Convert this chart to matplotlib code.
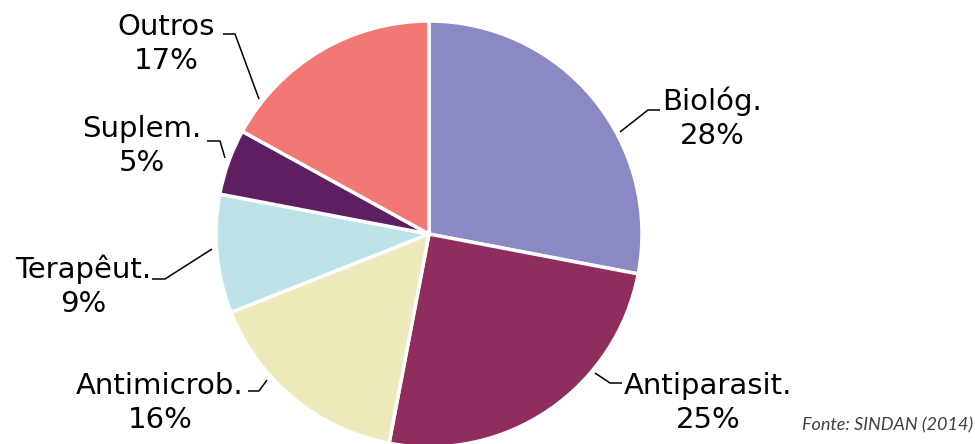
import matplotlib
matplotlib.use("Agg")
import matplotlib.pyplot as plt

categories = ["Biológ.", "Antiparasit.", "Antimicrob.", "Terapêut.", "Suplem.", "Outros"]
values = [28, 25, 16, 9, 5, 17]
colors = ["#8B89C4", "#8F2D5E", "#EDEBBB", "#BDE3E8", "#5E1F60", "#F27874"]

W, H = 975, 444
fig = plt.figure(figsize=(W / 100, H / 100), dpi=100)
ax = fig.add_axes([0, 0, 1, 1])

def py(y):
    return H - y

cx, cy, r = 429, 234, 213
ax.pie(values, colors=colors, startangle=90, counterclock=False,
       center=(cx, py(cy)), radius=r, frame=True,
       wedgeprops=dict(edgecolor="white", linewidth=2.5))
ax.set_xlim(0, W)
ax.set_ylim(0, H)
ax.set_aspect("equal")
ax.axis("off")

# label layout (pixel coords: text block center, leader polyline)
label_pos = [(712, 118), (708, 403), (160, 403), (83, 286), (142, 146), (166, 44)]
leaders = [
    [(620, 132), (648, 110), (660, 110)],
    [(595, 373), (610, 383), (622, 383)],
    [(267, 380), (259, 391), (248, 391)],
    [(212, 249), (165, 279), (152, 279)],
    [(225, 158), (220, 141), (207, 141)],
    [(259, 99), (235, 34), (223, 34)],
]

for cat, v, (tx, ty), pts in zip(categories, values, label_pos, leaders):
    ax.text(tx, py(ty), f"{cat}\n{v}%", ha="center", va="center",
            fontsize=21, family="DejaVu Sans", linespacing=1.25, color="black")
    xs = [p[0] for p in pts]
    ys = [py(p[1]) for p in pts]
    ax.plot(xs, ys, color="black", linewidth=1.1, solid_capstyle="butt")

ax.text(973, py(425), "Fonte: SINDAN (2014)", ha="right", va="center",
        fontsize=13, family="Lato", style="italic", color="#404040")

fig.savefig("out.png", dpi=100)
